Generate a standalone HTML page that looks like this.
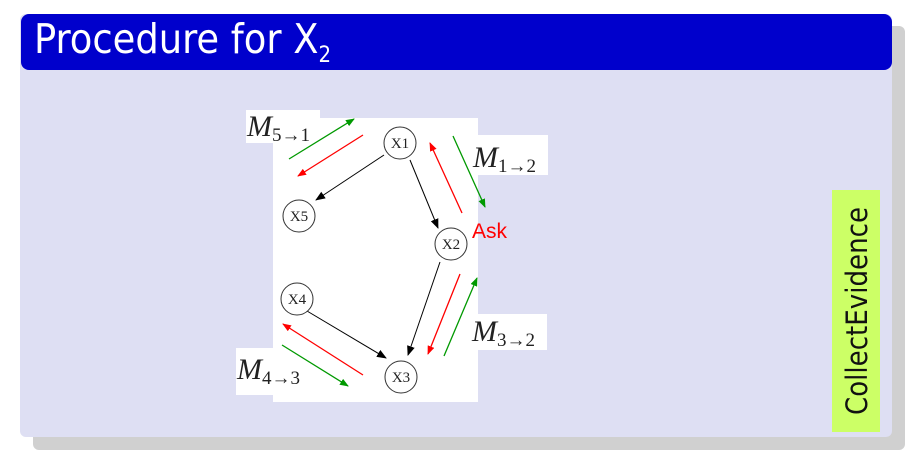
<!DOCTYPE html>
<html><head><meta charset="utf-8"><style>
body{margin:0;width:909px;height:472px;background:#fff;overflow:hidden;position:relative;font-family:"Liberation Sans",sans-serif}
.abs{position:absolute}
</style></head><body>
<div class="abs" style="left:33px;top:26px;width:872px;height:424px;background:#d0d0d0;border-radius:6px"></div>
<div class="abs" style="left:20px;top:14px;width:872px;height:423px;background:#dedff3;border-radius:6px"></div>
<div class="abs" style="left:21px;top:14px;width:871px;height:56px;background:#0000cc;border-radius:8px"></div>
<div class="abs" style="left:34px;top:14px;color:#fff;font-size:41px;line-height:50px;font-family:'DejaVu Sans Condensed','Liberation Sans',sans-serif">Procedure for X<sub style="font-size:22px">2</sub></div>
<svg class="abs" style="left:0;top:0" width="909" height="472">
<defs>
<marker id="ak" markerWidth="10" markerHeight="8" refX="9" refY="4" orient="auto" markerUnits="userSpaceOnUse"><path d="M0,0L10,4L0,8z" fill="#000"/></marker>
<marker id="ag" markerWidth="9" markerHeight="7" refX="8" refY="3.5" orient="auto" markerUnits="userSpaceOnUse"><path d="M0,0L9,3.5L0,7z" fill="#090"/></marker>
<marker id="ar" markerWidth="9" markerHeight="7" refX="8" refY="3.5" orient="auto" markerUnits="userSpaceOnUse"><path d="M0,0L9,3.5L0,7z" fill="#f00"/></marker>
</defs>
<rect x="273" y="118" width="205" height="284" fill="#fff"/>
<rect x="246" y="110" width="74" height="33" fill="#fff"/>
<rect x="470" y="135" width="78" height="40" fill="#fff"/>
<rect x="470" y="314" width="77" height="36" fill="#fff"/>
<rect x="236" y="348" width="81" height="47" fill="#fff"/>
<g stroke="#000" stroke-width="1" fill="none">
<line x1="384" y1="155" x2="316" y2="200" marker-end="url(#ak)"/>
<line x1="410" y1="160" x2="438" y2="228" marker-end="url(#ak)"/>
<line x1="440" y1="262" x2="408" y2="355" marker-end="url(#ak)"/>
<line x1="307" y1="311" x2="386" y2="358" marker-end="url(#ak)"/>
</g>
<g stroke="#090" stroke-width="1.3">
<line x1="289" y1="159" x2="354" y2="119" marker-end="url(#ag)"/>
<line x1="453" y1="136" x2="485" y2="207" marker-end="url(#ag)"/>
<line x1="444" y1="356" x2="477" y2="278" marker-end="url(#ag)"/>
<line x1="282" y1="345" x2="348" y2="386" marker-end="url(#ag)"/>
</g>
<g stroke="#f00" stroke-width="1.3">
<line x1="363" y1="135" x2="298" y2="176" marker-end="url(#ar)"/>
<line x1="462" y1="213" x2="430" y2="143" marker-end="url(#ar)"/>
<line x1="460" y1="274" x2="428" y2="354" marker-end="url(#ar)"/>
<line x1="363" y1="375" x2="283" y2="324" marker-end="url(#ar)"/>
</g>
<g fill="#fff" stroke="#333" stroke-width="1">
<circle cx="400" cy="143" r="16"/><circle cx="299" cy="216" r="16"/><circle cx="451" cy="244" r="16"/><circle cx="297" cy="299" r="16"/><circle cx="401" cy="377" r="16"/>
</g>
<g font-family="Liberation Serif,serif" font-size="15" fill="#222" text-anchor="middle">
<text x="400" y="148">X1</text>
<text x="299" y="221">X5</text>
<text x="451" y="249">X2</text>
<text x="297" y="304">X4</text>
<text x="401" y="382">X3</text>
</g>
<g font-family="Liberation Serif,serif" font-style="italic" font-size="30" fill="#222">
<text x="247" y="136">M<tspan font-style="normal" font-size="19" dy="5">5→1</tspan></text>
<text x="473" y="167">M<tspan font-style="normal" font-size="19" dy="5">1→2</tspan></text>
<text x="472" y="341">M<tspan font-style="normal" font-size="19" dy="5">3→2</tspan></text>
<text x="237" y="379">M<tspan font-style="normal" font-size="19" dy="5">4→3</tspan></text>
</g>
<text x="472" y="238" fill="#f00" font-size="21" font-family="Liberation Sans,sans-serif">Ask</text>
</svg>
<div class="abs" style="left:832px;top:190px;width:48px;height:242px;background:#ccff66"></div>
<div class="abs" style="left:857px;top:311px;transform:translate(-50%,-50%) rotate(-90deg);font-size:29px;white-space:nowrap;color:#111;font-family:'DejaVu Sans Condensed','Liberation Sans',sans-serif">CollectEvidence</div>
</body></html>
